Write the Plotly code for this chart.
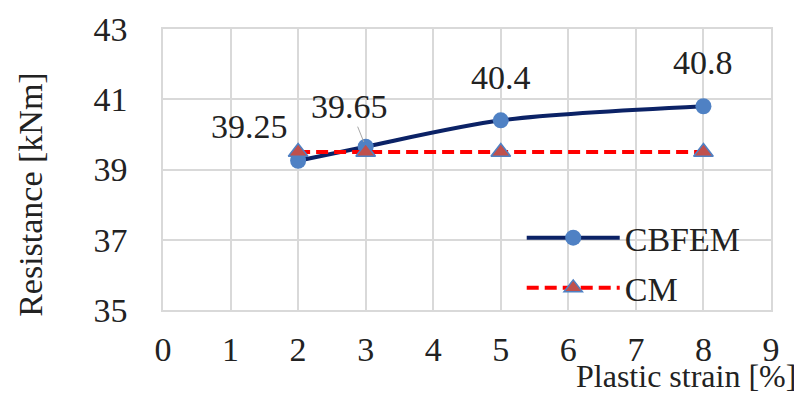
import plotly.graph_objects as go

strain = [2, 3, 5, 8]
cbfem = [39.25, 39.65, 40.4, 40.8]
cm = [39.5, 39.5, 39.5, 39.5]
x_ticks = [0, 1, 2, 3, 4, 5, 6, 7, 8, 9]
y_ticks = [35, 37, 39, 41, 43]

FONT = "Liberation Serif, Times New Roman, serif"
TXT = "#222222"
GRID = "#d9d9d9"
FS = 34

fig = go.Figure()
fig.add_trace(go.Scatter(
    x=strain, y=cbfem, name="CBFEM", mode="lines+markers", legendgroup="a",
    line=dict(color="#0b2266", width=4, shape="spline", smoothing=0.8),
    marker=dict(symbol="circle", size=16, color="#4f81c4"),
))
fig.add_trace(go.Scatter(
    x=strain, y=cm, name="CM", mode="lines+markers", legendgroup="b",
    line=dict(color="#ff0000", width=4, dash="12px,6px"),
    marker=dict(symbol="triangle-up", size=17, color="#c0504d",
                line=dict(color="#4f81c4", width=1.5)),
))

# data labels
offsets = [(-49, 34, False), (-16, 40, True), (0, 43, False), (0, 44, False)]
for xv, yv, (dx, dy, arrow) in zip(strain, cbfem, offsets):
    if arrow:
        fig.add_annotation(x=xv, y=yv, text=f"{yv:g}", showarrow=True, ax=dx, ay=-dy,
                           arrowhead=0, arrowwidth=1, arrowcolor="#a6a6a6", standoff=5,
                           font=dict(family=FONT, size=FS, color=TXT))
    else:
        fig.add_annotation(x=xv, y=yv, text=f"{yv:g}", showarrow=False, xshift=dx, yshift=dy,
                           font=dict(family=FONT, size=FS, color=TXT))

fig.add_annotation(xref="paper", yref="paper", x=1.044, y=-0.236, xanchor="right", yanchor="middle",
                   text="Plastic strain [%]", showarrow=False,
                   font=dict(family=FONT, size=32, color=TXT))
fig.add_annotation(xref="paper", yref="paper", x=-0.217, y=0.41, xanchor="center", yanchor="middle",
                   text="Resistance [kNm]", textangle=-90, showarrow=False,
                   font=dict(family=FONT, size=FS, color=TXT))

fig.update_xaxes(range=[0, 9], tickvals=x_ticks, showgrid=True, gridcolor=GRID, gridwidth=1.5,
                 showline=True, linecolor=GRID, linewidth=1.5, mirror=True, zeroline=False,
                 ticks="outside", ticklen=8, tickcolor="rgba(0,0,0,0)", automargin=False,
                 tickfont=dict(family=FONT, size=FS, color=TXT))
fig.update_yaxes(range=[35, 43], tickvals=y_ticks, showgrid=True, gridcolor=GRID, gridwidth=1.5,
                 showline=True, linecolor=GRID, linewidth=1.5, mirror=True, zeroline=False,
                 ticks="outside", ticklen=27, tickcolor="rgba(0,0,0,0)", automargin=False,
                 tickfont=dict(family=FONT, size=FS, color=TXT))

fig.update_layout(
    width=794, height=388,
    margin=dict(l=155, r=31, t=21, b=86, autoexpand=False),
    paper_bgcolor="white", plot_bgcolor="white",
    showlegend=True,
    legend=dict(x=0.59, y=0.167, xanchor="left", yanchor="middle", bgcolor="rgba(0,0,0,0)",
                tracegroupgap=3, itemwidth=93,
                font=dict(family=FONT, size=FS, color=TXT)),
)

fig.write_html("out.html")
